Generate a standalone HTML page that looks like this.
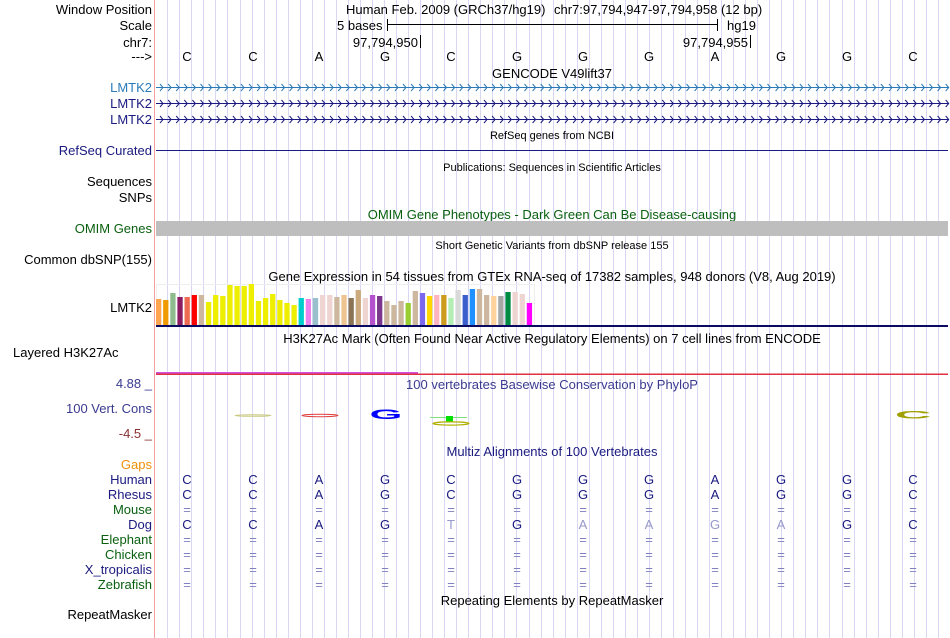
<!DOCTYPE html>
<html><head><meta charset="utf-8">
<style>
body{margin:0;background:#fff;}
svg{display:block;font-family:"Liberation Sans",sans-serif;}
</style></head>
<body>
<svg id="g" width="950" height="638" viewBox="0 0 950 638" xmlns="http://www.w3.org/2000/svg">
<rect width="950" height="638" fill="#fff"/>
<g id="grid"></g>
<line x1="154.5" y1="0" x2="154.5" y2="638" stroke="#f4a0a0" stroke-width="1"/>

<g font-size="13" text-anchor="end" fill="#000">
<text x="152" y="14">Window Position</text>
<text x="152" y="30">Scale</text>
<text x="152" y="47">chr7:</text>
<text x="152" y="61">---&gt;</text>
<text x="152" y="92" fill="#2a7ab8">LMTK2</text>
<text x="152" y="108" fill="#1a1a80">LMTK2</text>
<text x="152" y="124" fill="#1a1a80">LMTK2</text>
<text x="152" y="155" fill="#1a1a80">RefSeq Curated</text>
<text x="152" y="186">Sequences</text>
<text x="152" y="202">SNPs</text>
<text x="152" y="233" fill="#0a6010">OMIM Genes</text>
<text x="152" y="264">Common dbSNP(155)</text>
<text x="152" y="312">LMTK2</text>
<text x="13" y="357" text-anchor="start">Layered H3K27Ac</text>
<text x="152" y="388" fill="#3a3a90">4.88 _</text>
<text x="152" y="413" fill="#3a3a90">100 Vert. Cons</text>
<text x="152" y="438" fill="#8a3030">-4.5 _</text>
<text x="152" y="469" fill="#f0900a">Gaps</text>
<text x="152" y="484" fill="#1a1a80">Human</text>
<text x="152" y="499" fill="#1a1a80">Rhesus</text>
<text x="152" y="514" fill="#0a6010">Mouse</text>
<text x="152" y="529" fill="#1a1a80">Dog</text>
<text x="152" y="544" fill="#0a6010">Elephant</text>
<text x="152" y="559" fill="#0a6010">Chicken</text>
<text x="152" y="574" fill="#1a1a80">X_tropicalis</text>
<text x="152" y="589" fill="#0a6010">Zebrafish</text>
<text x="152" y="619">RepeatMasker</text>
</g>

<text x="346" y="14" font-size="13">Human Feb. 2009 (GRCh37/hg19)</text>
<text x="554" y="14" font-size="13">chr7:97,794,947-97,794,958 (12 bp)</text>
<text x="337" y="30" font-size="13">5 bases</text>
<line x1="387.5" y1="19" x2="387.5" y2="31" stroke="#000"/>
<line x1="388" y1="24.5" x2="717" y2="24.5" stroke="#000"/>
<line x1="717.5" y1="19" x2="717.5" y2="31" stroke="#000"/>
<text x="727" y="30" font-size="13">hg19</text>
<text x="418" y="47" font-size="13" text-anchor="end">97,794,950</text>
<line x1="420.5" y1="35" x2="420.5" y2="48" stroke="#000"/>
<text x="748" y="47" font-size="13" text-anchor="end">97,794,955</text>
<line x1="750.5" y1="35" x2="750.5" y2="48" stroke="#000"/>
<g id="bases" font-size="13" text-anchor="middle"></g>

<g text-anchor="middle">
<text x="552" y="78" font-size="13">GENCODE V49lift37</text>
<text x="552" y="139" font-size="11">RefSeq genes from NCBI</text>
<text x="552" y="171" font-size="11">Publications: Sequences in Scientific Articles</text>
<text x="552" y="219" font-size="13" fill="#0a6010">OMIM Gene Phenotypes - Dark Green Can Be Disease-causing</text>
<text x="552" y="249" font-size="11">Short Genetic Variants from dbSNP release 155</text>
<text x="552" y="281" font-size="13">Gene Expression in 54 tissues from GTEx RNA-seq of 17382 samples, 948 donors (V8, Aug 2019)</text>
<text x="552" y="343" font-size="13">H3K27Ac Mark (Often Found Near Active Regulatory Elements) on 7 cell lines from ENCODE</text>
<text x="552" y="389" font-size="13" fill="#3a3a90">100 vertebrates Basewise Conservation by PhyloP</text>
<text x="552" y="456" font-size="13" fill="#1a1a80">Multiz Alignments of 100 Vertebrates</text>
<text x="552" y="605" font-size="13">Repeating Elements by RepeatMasker</text>
</g>

<g id="genes"></g>
<line x1="156" y1="150.5" x2="948" y2="150.5" stroke="#1a1a80"/>
<rect x="156" y="221" width="792" height="15" fill="#bebebe"/>

<rect x="156.5" y="284.5" width="378" height="41" fill="none" stroke="#eeeeee"/>
<g id="gtex"></g>
<rect x="156" y="325" width="792" height="2" fill="#0a0a60"/>

<rect x="156" y="373.5" width="792" height="1.5" fill="#e03040"/>
<rect x="156" y="372" width="262" height="1.5" fill="#d050e0"/>

<g>
<ellipse cx="253" cy="415.5" rx="18" ry="0.8" fill="none" stroke="#c8c880"/>
<ellipse cx="320" cy="415.5" rx="18" ry="1.2" fill="none" stroke="#e04040" stroke-width="1"/>
<text font-size="14" font-weight="bold" fill="#0000ff" text-anchor="middle" transform="translate(386,419) scale(3.0,1.0)">G</text>
<line x1="430" y1="417.5" x2="467" y2="417.5" stroke="#80e080"/>
<rect x="446" y="416" width="7" height="6" fill="#00e000"/>
<ellipse cx="451" cy="423.5" rx="18" ry="1.6" fill="none" stroke="#b0b000" stroke-width="1.2"/>
<text font-size="14" font-weight="bold" fill="#a0a000" text-anchor="middle" transform="translate(913,418.5) scale(3.6,0.8)">C</text>
</g>

<g id="multiz" font-size="13" text-anchor="middle"></g>
</svg>
<script>
const bases = ["C","C","A","G","C","G","G","G","A","G","G","C"];
const dogBases = ["C","C","A","G","T","G","A","A","G","A","G","C"];
const dogMatch = [1,1,1,1,0,1,0,0,0,0,1,1];
const gtexValues = [26,25,32,28,28,30,30,23,30,29,40,39,39,41,24,27,31,25,22,20,27,26,27,30,30,28,30,27,35,27,30,29,24,20,24,22,34,32,29,30,30,27,35,30,36,36,30,29,29,33,33,31,22];
const gtexColors = ["#FFA54F","#EE9A00","#8FBC8F","#8B1C62","#EE6A50","#FF0000","#CDB79E","#EEEE00","#EEEE00","#EEEE00","#EEEE00","#EEEE00","#EEEE00","#EEEE00","#EEEE00","#EEEE00","#EEEE00","#EEEE00","#EEEE00","#EEEE00","#00CDCD","#EE82EE","#9AC0CD","#EED5D2","#EED5D2","#CDB79E","#EEC591","#8B7355","#CDAA7D","#EED5D2","#B452CD","#7A378B","#CDB79E","#CDB79E","#CDB79E","#9ACD32","#CDB79E","#7B68EE","#FFD700","#FFB6C1","#CD9B1D","#B4EEB4","#D9D9D9","#3A5FCD","#1E90FF","#CDB79E","#CDB79E","#FFD39B","#A6A6A6","#008B45","#EED5D2","#EED5D2","#FF00FF"];
const NS="http://www.w3.org/2000/svg";
function mk(t,a,p){const e=document.createElementNS(NS,t);for(const k in a)e.setAttribute(k,a[k]);p.appendChild(e);return e;}
const baseX = i => 187 + i*66;
const gtexX = i => 156 + i*7.13;
const gtexH = v => v;
const grid=document.getElementById('grid');
for(let x=167.3;x<950;x+=12.04){
  const l=mk('line',{x1:Math.round(x)+0.5,y1:0,x2:Math.round(x)+0.5,y2:638,stroke:'#d8d8f4'},grid);
  
  
}
const bg=document.getElementById('bases');
bases.forEach((b,i)=>{const t=mk('text',{x:baseX(i),y:61},bg);t.textContent=b;
  
  });
const gg=document.getElementById('genes');
[[87,'#2a7ab8'],[103,'#1a1a80'],[119,'#1a1a80']].forEach(([y,c])=>{
  const l=mk('line',{x1:156,y1:y+0.5,x2:948,y2:y+0.5,stroke:c},gg);
  
  
  let d='';
  for(let x=160;x<948;x+=8.1){d+=`M${x.toFixed(1)} ${y-3}L${(x+3).toFixed(1)} ${y+0.5}L${x.toFixed(1)} ${y+4}`;}
  const p=mk('path',{d:d,stroke:c,fill:'none','stroke-width':1},gg);
  
  
});
const gx=document.getElementById('gtex');
gtexValues.forEach((v,i)=>{
  const h=gtexH(v);
  const r=mk('rect',{x:gtexX(i),y:325-h,width:5.3,height:h,fill:gtexColors[i]},gx);
  
  
});
const mz=document.getElementById('multiz');
const rows=[[484,'human'],[499,'rhesus'],[514,'mouse'],[529,'dog'],[544,'elephant'],[559,'chicken'],[574,'xtropicalis'],[589,'zebrafish']];
rows.forEach(([y,sp])=>{
  bases.forEach((b,i)=>{
    let txt,col='#1a1a80';
    if(sp==='human'||sp==='rhesus'){txt=b;}
    else if(sp==='dog'){txt=dogBases[i];if(!dogMatch[i])col='#9898cc';}
    else {txt='=';col='#8080c0';}
    const t=mk('text',{x:baseX(i),y:y,fill:col},mz);t.textContent=txt;
    
    
  });
});
</script>
</body></html>
